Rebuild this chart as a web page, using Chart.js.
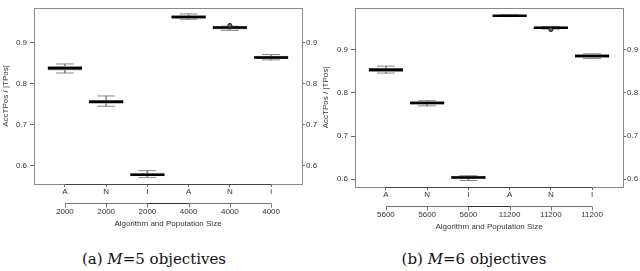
<!DOCTYPE html>
<html>
<head>
<meta charset="utf-8">
<script src="https://cdn.jsdelivr.net/npm/chart.js@4.4.0/dist/chart.umd.min.js"></script>
<style>
  body { margin: 0; background: #fff; }
  #wrap { position: relative; width: 640px; height: 271px; overflow: hidden; }
  .panel { position: absolute; top: 0; width: 320px; height: 240px; }
  .cap { position: absolute; top: 250px; width: 308px; text-align: center;
         font-family: "DejaVu Serif", serif; font-size: 15px; color: #111; }
</style>
</head>
<body>
<div id="wrap">
  <div class="panel" style="left:0"><canvas id="g5"></canvas></div>
  <div class="panel" style="left:320px"><canvas id="g6"></canvas></div>
  <div class="cap" style="left:0">(a) <i>M</i>=5 objectives</div>
  <div class="cap" style="left:320px">(b) <i>M</i>=6 objectives</div>
</div>
<script>
// dados
const categorias = ['A', 'N', 'I', 'A', 'N', 'I'];
const populacaoM5 = ['2000', '2000', '2000', '4000', '4000', '4000'];
const populacaoM6 = ['5600', '5600', '5600', '11200', '11200', '11200'];
const ticksY = [0.6, 0.7, 0.8, 0.9];

// M=5 : minimo, q1, mediana, q3, maximo
const minM5 = [0.826, 0.745, 0.571, 0.957, 0.930, 0.858];
const q1M5 = [0.833, 0.752, 0.575, 0.959, 0.933, 0.861];
const medM5 = [0.8375, 0.756, 0.578, 0.9625, 0.937, 0.864];
const q3M5 = [0.842, 0.760, 0.581, 0.966, 0.939, 0.867];
const maxM5 = [0.848, 0.770, 0.588, 0.970, 0.940, 0.871];
const outM5 = [null, null, null, null, 0.942, null];

// M=6
const minM6 = [0.846, 0.770, 0.597, 0.977, 0.948, 0.880];
const q1M6 = [0.849, 0.774, 0.602, 0.978, 0.949, 0.882];
const medM6 = [0.8534, 0.7765, 0.604, 0.979, 0.951, 0.8857];
const q3M6 = [0.857, 0.780, 0.607, 0.980, 0.953, 0.889];
const maxM6 = [0.862, 0.782, 0.608, 0.981, 0.954, 0.8905];
const outM6 = [null, null, null, null, 0.9466, null];

const fonte = { family: 'Liberation Sans, Arial, sans-serif', size: 8, lineHeight: 1.25 };
const corTexto = '#333';

// moldura + linha do eixo + segundo eixo (tamanho da populacao)
const molduraPlugin = {
  id: 'moldura',
  afterDraw(chart) {
    const c = chart.ctx, a = chart.chartArea, x = chart.scales.x;
    const x0 = x.getPixelForValue(1), x1 = x.getPixelForValue(categorias.length);
    c.save();
    c.strokeStyle = '#888';
    c.lineWidth = 1;
    c.strokeRect(Math.round(a.left) + 0.5, Math.round(a.top) + 0.5,
                 Math.round(a.right - a.left), Math.round(a.bottom - a.top));
    // linha do eixo x (mais escura entre o primeiro e o ultimo tick)
    const yb = Math.round(a.bottom) + 0.5;
    c.strokeStyle = '#444';
    c.beginPath(); c.moveTo(x0, yb); c.lineTo(x1, yb); c.stroke();
    // segundo eixo
    const y2 = Math.round(a.bottom) + 19.5;
    c.strokeStyle = '#777';
    c.beginPath();
    c.moveTo(x0, y2); c.lineTo(x1, y2);
    for (let i = 1; i <= categorias.length; i++) {
      const px = Math.round(x.getPixelForValue(i)) + 0.5;
      c.moveTo(px, y2); c.lineTo(px, y2 + 4);
    }
    c.stroke();
    c.strokeStyle = '#333';
    c.beginPath();
    c.moveTo(x.getPixelForValue(3), y2); c.lineTo(x.getPixelForValue(4), y2);
    c.stroke();
    c.restore();
  }
};

function criarBoxplot(id, mins, q1s, meds, q3s, maxs, outs, pops, cfg) {
  const pts = arr => arr.map((v, i) => v == null ? null : { x: i + 1, y: v }).filter(p => p);
  const caps = mins.map((v, i) => ({ x: i + 1, y: v })).concat(maxs.map((v, i) => ({ x: i + 1, y: v })));

  return new Chart(document.getElementById(id).getContext('2d'), {
    type: 'bar',
    data: {
      datasets: [
        {
          type: 'scatter', data: pts(outs),
          pointStyle: 'circle', radius: 2, borderColor: '#222', backgroundColor: '#666', borderWidth: 1
        },
        {
          type: 'scatter', data: pts(meds),
          pointStyle: 'line', radius: 17, borderColor: '#000', borderWidth: 2.5
        },
        {
          type: 'scatter', data: caps,
          pointStyle: 'line', radius: 9, borderColor: '#888', borderWidth: 1
        },
        {
          data: q1s.map((v, i) => ({ x: i + 1, y: [v, q3s[i]] })),
          grouped: false, barThickness: 34,
          backgroundColor: '#cdcdcd', borderColor: '#8c8c8c', borderWidth: 1, borderSkipped: false
        },
        {
          data: mins.map((v, i) => ({ x: i + 1, y: [v, maxs[i]] })),
          grouped: false, barThickness: 1,
          backgroundColor: '#888', borderWidth: 0
        }
      ]
    },
    options: {
      responsive: false,
      animation: false,
      events: [],
      layout: { autoPadding: false, padding: { top: cfg.top, left: 0, right: 0, bottom: 0 } },
      plugins: { legend: { display: false }, tooltip: { enabled: false } },
      scales: {
        x: {
          type: 'linear', min: 0.25, max: 6.75, offset: false,
          afterBuildTicks: s => { s.ticks = categorias.map((c, i) => ({ value: i + 1 })); },
          afterFit: s => { s.height = 240 - cfg.bottom; },
          grid: { drawOnChartArea: false, drawTicks: true, tickLength: 3, color: '#666', offset: false },
          border: { display: false },
          ticks: {
            font: fonte, color: corTexto, padding: 0, maxRotation: 0, autoSkip: false,
            callback: v => [categorias[v - 1], '', pops[v - 1]]
          },
          title: {
            display: true, text: 'Algorithm and Population Size',
            font: fonte, color: corTexto, padding: { top: 0, bottom: cfg.titlePad }
          }
        },
        y: {
          position: 'left', min: cfg.ymin, max: cfg.ymax,
          afterBuildTicks: s => { s.ticks = ticksY.map(v => ({ value: v })); },
          afterFit: s => { s.width = cfg.left; },
          grid: { drawOnChartArea: false, drawTicks: true, tickLength: 4, color: '#666' },
          border: { display: false },
          ticks: { font: fonte, color: corTexto, padding: 3, callback: v => v.toFixed(1) },
          title: {
            display: true, text: 'AccTPos / |TPos|',
            font: fonte, color: corTexto, padding: { top: 1, bottom: 0 }
          }
        },
        y2: {
          position: 'right', min: cfg.ymin, max: cfg.ymax,
          afterBuildTicks: s => { s.ticks = ticksY.map(v => ({ value: v })); },
          afterFit: s => { s.width = cfg.right; },
          grid: { drawOnChartArea: false, drawTicks: true, tickLength: 3, color: '#666' },
          border: { display: false },
          ticks: { font: fonte, color: corTexto, padding: 1, callback: v => v.toFixed(1) }
        }
      }
    },
    plugins: [molduraPlugin]
  });
}

document.getElementById('g5').width = 320; document.getElementById('g5').height = 240;
document.getElementById('g6').width = 320; document.getElementById('g6').height = 240;

criarBoxplot('g5', minM5, q1M5, medM5, q3M5, maxM5, outM5, populacaoM5,
  { top: 1, bottom: 184, left: 34, right: 18, ymin: 0.5555, ymax: 0.9844, titlePad: 11 });
criarBoxplot('g6', minM6, q1M6, medM6, q3M6, maxM6, outM6, populacaoM6,
  { top: 4, bottom: 187, left: 35, right: 17, ymin: 0.5819, ymax: 0.9968, titlePad: 8 });
</script>
</body>
</html>
